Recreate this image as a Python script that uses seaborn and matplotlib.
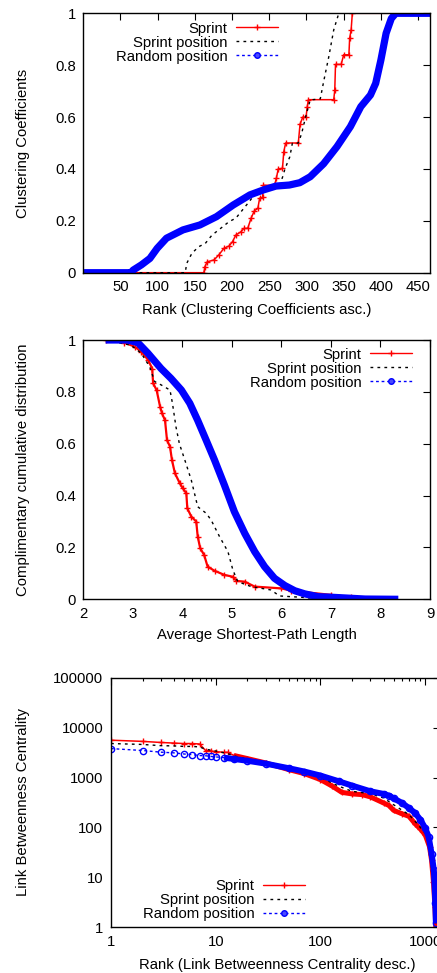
import numpy as np
import matplotlib
matplotlib.use("Agg")
import matplotlib.pyplot as plt
from matplotlib.lines import Line2D
from matplotlib.ticker import FixedLocator, LogLocator, NullFormatter
import seaborn as sns

# ---------------- data ----------------
series_names = ["Sprint", "Sprint position", "Random position"]

# Panel 1: clustering coefficients sorted ascending
cc_sprint_rank = [1, 162, 163.4, 166.5, 175.6, 182, 189, 196, 200.6, 205, 212, 216, 221,
                  225.5, 230, 234.6, 237, 241, 242, 257, 259.5, 262, 267.7, 269.5, 272, 289,
                  291.3, 295, 299.4, 301, 302.6, 336.6, 338, 339, 346.6, 350, 357, 358, 360,
                  361.6, 466]
cc_sprint_val = [0, 0, 0.023, 0.042, 0.049, 0.068, 0.094, 0.103, 0.12, 0.145, 0.158, 0.171, 0.171,
                 0.21, 0.239, 0.248, 0.287, 0.29, 0.337, 0.337, 0.364, 0.40, 0.402, 0.467, 0.50, 0.50,
                 0.572, 0.60, 0.60, 0.64, 0.667, 0.667, 0.704, 0.803, 0.803, 0.84, 0.84, 0.904, 0.936,
                 1.0, 1.0]
cc_pos_rank = [1, 137, 139, 146, 155, 164, 173, 182, 196, 205, 214, 223, 230, 241, 264, 268, 271,
               277.6, 281, 289, 293.5, 300, 305, 318.5, 323, 330, 336.6, 343.4, 466]
cc_pos_val = [0, 0, 0.036, 0.075, 0.10, 0.113, 0.145, 0.165, 0.197, 0.21, 0.242, 0.274, 0.30, 0.325,
              0.338, 0.37, 0.40, 0.447, 0.499, 0.50, 0.537, 0.614, 0.666, 0.67, 0.736, 0.833, 0.936,
              1.0, 1.0]
cc_rand_rank = [1, 64, 67, 78, 89.5, 99.3, 111.8, 134, 156.7, 179, 201.5, 224, 242, 259, 277, 291,
                305, 323, 341, 359, 373, 386, 393, 400, 407, 414, 420, 466]
cc_rand_val = [0, 0, 0.01, 0.03, 0.055, 0.094, 0.133, 0.165, 0.184, 0.216, 0.261, 0.30, 0.319, 0.334,
               0.338, 0.347, 0.37, 0.42, 0.486, 0.563, 0.64, 0.685, 0.73, 0.82, 0.923, 0.98, 1.0, 1.0]

# Panel 2: CCDF of average shortest-path length
asp_sprint_x = [2.45, 2.83, 3.04, 3.17, 3.31, 3.39, 3.41, 3.48, 3.55, 3.59, 3.65, 3.69, 3.75, 3.79,
                3.85, 3.95, 4.01, 4.08, 4.10, 4.18, 4.28, 4.31, 4.36, 4.44, 4.51, 4.65, 4.85, 5.02,
                5.09, 5.26, 5.46, 6.0, 6.2, 7.01, 7.41, 8.02]
asp_sprint_y = [1.0, 0.99, 0.974, 0.955, 0.923, 0.89, 0.833, 0.807, 0.743, 0.717, 0.69, 0.614, 0.589,
                0.537, 0.486, 0.447, 0.428, 0.409, 0.351, 0.319, 0.30, 0.242, 0.197, 0.171, 0.126,
                0.11, 0.094, 0.087, 0.071, 0.068, 0.049, 0.042, 0.033, 0.017, 0.008, 0.003]
asp_pos_x = [2.45, 2.96, 3.17, 3.34, 3.44, 3.57, 3.75, 3.80, 3.87, 3.94, 4.05, 4.18, 4.31, 4.48,
             4.58, 4.75, 4.92, 5.02, 5.12, 5.39, 5.79, 5.96, 6.2, 6.4, 6.67, 7.0]
asp_pos_y = [1.0, 0.98, 0.949, 0.897, 0.84, 0.827, 0.807, 0.756, 0.666, 0.60, 0.537, 0.46, 0.357,
             0.332, 0.306, 0.242, 0.184, 0.113, 0.068, 0.049, 0.036, 0.013, 0.010, 0.008, 0.003, 0.0]
asp_rand_x = [2.45, 2.89, 3.1, 3.3, 3.57, 3.77, 3.98, 4.15, 4.31, 4.48, 4.65, 4.85, 5.05, 5.26,
              5.46, 5.66, 5.86, 6.07, 6.27, 6.47, 6.74, 7.01, 7.69, 8.36]
asp_rand_y = [1.0, 1.0, 0.99, 0.95, 0.89, 0.852, 0.807, 0.756, 0.69, 0.614, 0.537, 0.44, 0.338,
              0.254, 0.184, 0.126, 0.081, 0.053, 0.033, 0.021, 0.010, 0.008, 0.001, 0.0]

# Panel 3: link betweenness centrality sorted descending
lbc_sprint_rank = [1, 2, 3, 4, 5, 6, 7, 8, 9, 10, 12, 13, 15, 20, 30, 50, 70, 100, 130, 160, 200,
                   250, 300, 400, 450, 500, 600, 700, 800, 900, 1000, 1100, 1150, 1200, 1240, 1262]
lbc_sprint_val = [5600, 5300, 5040, 4900, 4800, 4800, 4700, 3480, 3400, 3300, 3200, 3200, 2760,
                  2400, 1960, 1440, 1200, 910, 670, 505, 470, 455, 410, 310, 276, 220, 188, 167,
                  119, 93, 71, 41, 22, 8, 2.5, 1]
lbc_pos_rank = [1, 2, 3, 4, 5, 6, 7, 8, 10, 13, 15, 20, 30, 50, 100, 150, 200, 300, 400, 500, 700,
                800, 1000, 1100, 1200, 1250]
lbc_pos_val = [4800, 4600, 4350, 4300, 4200, 4200, 4100, 3700, 3400, 3020, 2700, 2350, 1960, 1490,
               1010, 670, 530, 475, 390, 285, 180, 133, 77, 41, 6, 1]
lbc_rand_rank = [1, 2, 3, 4, 5, 6, 7, 8, 9, 10, 12, 15, 20, 30, 50, 70, 100, 150, 200, 300, 400,
                 450, 500, 600, 700, 800, 900, 1000, 1080, 1150, 1210, 1250, 1265]
lbc_rand_val = [3800, 3480, 3220, 3120, 2960, 2870, 2760, 2730, 2650, 2590, 2500, 2350, 2170, 1900,
                1535, 1320, 1095, 840, 690, 530, 470, 435, 383, 310, 245, 195, 143, 97, 65, 30, 14,
                3, 1.2]

cc_xticks = [50, 100, 150, 200, 250, 300, 350, 400, 450]
unit_yticks = [0, 0.2, 0.4, 0.6, 0.8, 1]
unit_ylabels = ["0", "0.2", "0.4", "0.6", "0.8", "1"]
asp_xticks = [2, 3, 4, 5, 6, 7, 8, 9]
lbc_xticks = [1, 10, 100, 1000]
lbc_xlabels = ["1", "10", "100", "1000"]
lbc_yticks = [1, 10, 100, 1000, 10000, 100000]
lbc_ylabels = ["1", "10", "100", "1000", "10000", "100000"]

# ---------------- style ----------------
FS = 10.7
sns.set_style("white")
plt.rcParams.update({
    "font.family": ["Liberation Sans", "DejaVu Sans"],
    "font.size": FS,
    "xtick.labelsize": FS, "ytick.labelsize": FS, "axes.labelsize": FS,
    "xtick.direction": "in", "ytick.direction": "in",
    "xtick.top": True, "ytick.right": True,
    "xtick.major.size": 5, "ytick.major.size": 5,
    "xtick.minor.size": 2.5, "ytick.minor.size": 2.5,
    "xtick.major.width": 0.8, "ytick.major.width": 0.8,
    "xtick.minor.width": 0.8, "ytick.minor.width": 0.8,
    "xtick.major.pad": 5.5, "ytick.major.pad": 5.5,
    "axes.edgecolor": "black", "axes.linewidth": 1.0,
    "xtick.color": "black", "ytick.color": "black",
    "text.color": "black", "axes.labelcolor": "black",
})

W, H = 437, 973
fig = plt.figure(figsize=(W / 100, H / 100), dpi=100)


def px_axes(left, top, right, bottom):
    return fig.add_axes([left / W, 1 - bottom / H, (right - left) / W, (bottom - top) / H])


def draw(ax, x, y, **kw):
    sns.lineplot(x=x, y=y, ax=ax, estimator=None, sort=False, legend=False, **kw)


def legend(ax, loc, anchor):
    handles = [
        Line2D([], [], color="red", lw=1, marker="+", ms=5, mew=1),
        Line2D([], [], color="black", lw=1, ls=(0, (2, 3))),
        Line2D([], [], color="blue", lw=1, ls=(0, (2, 2)), marker="o", ms=4,
               mfc="#4a4aff", mec="blue"),
    ]
    ax.legend(handles, series_names, loc=loc, bbox_to_anchor=anchor, frameon=False,
              markerfirst=False, handlelength=2.8, handletextpad=0.6, labelspacing=0.0,
              borderpad=0, borderaxespad=0, fontsize=FS)


# ---------------- panel 1 ----------------
ax1 = px_axes(83.3, 13.3, 430, 272.7)
draw(ax1, cc_sprint_rank, cc_sprint_val, color="red", lw=1.1, marker="+", markersize=5,
     markeredgecolor="red", markeredgewidth=1)
draw(ax1, cc_pos_rank, cc_pos_val, color="black", lw=1, linestyle=(0, (2, 3)))
draw(ax1, cc_rand_rank, cc_rand_val, color="blue", lw=5.2, solid_capstyle="butt")
ax1.set_xlim(0, 466)
ax1.set_ylim(0, 1)
ax1.xaxis.set_major_locator(FixedLocator(cc_xticks))
ax1.set_xticklabels([str(t) for t in cc_xticks])
ax1.yaxis.set_major_locator(FixedLocator(unit_yticks))
ax1.set_yticklabels(unit_ylabels)
ax1.set_xlabel("Rank (Clustering Coefficients asc.)", va="center")
ax1.set_ylabel("Clustering Coefficients", va="center", ha="center")
ax1.xaxis.set_label_coords(0.5, -37.5 / 259.4)
ax1.yaxis.set_label_coords(-60.5 / 346.7, 0.5)
legend(ax1, "upper right", (0.5616, 0.968))

# ---------------- panel 2 ----------------
ax2 = px_axes(83.3, 340, 430, 599.3)
draw(ax2, asp_sprint_x, asp_sprint_y, color="red", lw=1.6, marker="+", markersize=5,
     markeredgecolor="red", markeredgewidth=1)
draw(ax2, asp_pos_x, asp_pos_y, color="black", lw=1, linestyle=(0, (2, 3)))
draw(ax2, asp_rand_x, asp_rand_y, color="blue", lw=5.2, solid_capstyle="butt")
ax2.set_xlim(2, 9)
ax2.set_ylim(0, 1)
ax2.xaxis.set_major_locator(FixedLocator(asp_xticks))
ax2.set_xticklabels([str(t) for t in asp_xticks])
ax2.yaxis.set_major_locator(FixedLocator(unit_yticks))
ax2.set_yticklabels(unit_ylabels)
ax2.set_xlabel("Average Shortest-Path Length", va="center")
ax2.set_ylabel("Complimentary cumulative distribution", va="center", ha="center")
ax2.xaxis.set_label_coords(0.5, -36 / 259.3)
ax2.yaxis.set_label_coords(-60.5 / 346.7, 0.5)
legend(ax2, "upper right", (0.948, 0.971))

# ---------------- panel 3 ----------------
ax3 = px_axes(111, 677.7, 440.5, 927.3)
ax3.set_xscale("log")
ax3.set_yscale("log")
draw(ax3, lbc_sprint_rank, lbc_sprint_val, color="red", lw=1.1, marker="+", markersize=5,
     markeredgecolor="red", markeredgewidth=1)
draw(ax3, lbc_sprint_rank[12:], lbc_sprint_val[12:], color="red", lw=3.6, solid_capstyle="butt")
draw(ax3, lbc_pos_rank, lbc_pos_val, color="black", lw=1, linestyle=(0, (2, 3)))
draw(ax3, lbc_rand_rank, lbc_rand_val, color="blue", lw=1, linestyle=(0, (2, 2)), marker="o",
     markersize=4.5, markerfacecolor="none", markeredgecolor="blue", markeredgewidth=1)
draw(ax3, lbc_rand_rank[10:], lbc_rand_val[10:], color="blue", lw=4.3, solid_capstyle="butt")
ax3.set_xlim(1, 1400)
ax3.set_ylim(1, 100000)
ax3.xaxis.set_major_locator(FixedLocator(lbc_xticks))
ax3.set_xticklabels(lbc_xlabels)
ax3.yaxis.set_major_locator(FixedLocator(lbc_yticks))
ax3.set_yticklabels(lbc_ylabels)
ax3.xaxis.set_minor_locator(LogLocator(base=10, subs=np.arange(2, 10)))
ax3.yaxis.set_minor_locator(LogLocator(base=10, subs=np.arange(2, 10)))
ax3.xaxis.set_minor_formatter(NullFormatter())
ax3.yaxis.set_minor_formatter(NullFormatter())
ax3.set_xlabel("Rank (Link Betweenness Centrality desc.)", va="center")
ax3.set_ylabel("Link Betweenness Centrality", va="center", ha="center")
ax3.xaxis.set_label_coords((277 - 111) / 329.5, -37.5 / 249.6)
ax3.yaxis.set_label_coords(-88 / 329.5, 0.5)
legend(ax3, "lower right", (0.589, 0.025))

for ax in (ax1, ax2, ax3):
    for s in ax.spines.values():
        s.set_visible(True)
        s.set_color("black")
    ax.tick_params(which="both", direction="in", top=True, right=True)

fig.savefig("out.png", dpi=100)
